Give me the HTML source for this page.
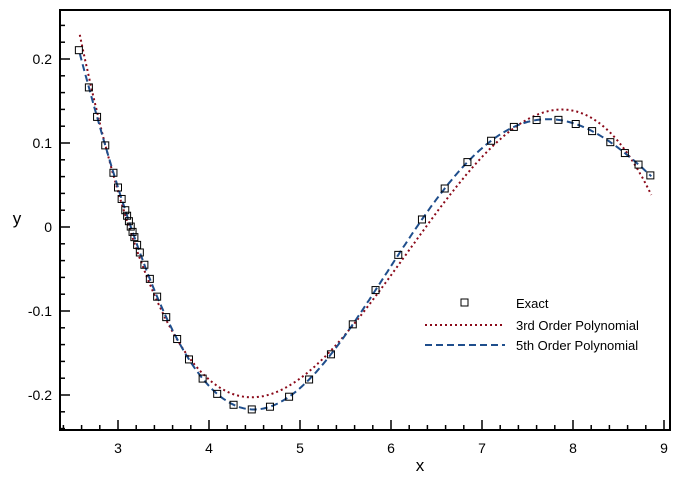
<!DOCTYPE html>
<html><head><style>body{margin:0;background:#fff}svg{display:block;font-family:"Liberation Sans",sans-serif}</style></head>
<body>
<svg id="s" width="680" height="480" xmlns="http://www.w3.org/2000/svg">
<rect x="0" y="0" width="680" height="480" fill="#fff"/>
<g id="ticks" stroke="#000" stroke-width="1.5"></g>
<g id="labels" font-size="14" fill="#000"></g>
<path id="red" fill="none" stroke="#8b0a1a" stroke-width="2" stroke-dasharray="2,3"/>
<path id="blue" fill="none" stroke="#1f4e8c" stroke-width="2" stroke-dasharray="7,4"/>
<g id="marks" fill="none" stroke="#000" stroke-width="1"></g>
<rect x="60" y="10" width="610" height="420" fill="none" stroke="#000" stroke-width="2"/>
<text x="420" y="471" font-size="17" text-anchor="middle">x</text>
<text x="17" y="224" font-size="17" text-anchor="middle">y</text>
<rect x="461" y="299" width="7" height="7" fill="none" stroke="#000"/>
<text x="516" y="308" font-size="13">Exact</text>
<line x1="425" y1="325" x2="505" y2="325" stroke="#8b0a1a" stroke-width="2" stroke-dasharray="2,3"/>
<text x="516" y="330" font-size="13">3rd Order Polynomial</text>
<line x1="425" y1="345" x2="505" y2="345" stroke="#1f4e8c" stroke-width="2" stroke-dasharray="7,4"/>
<text x="516" y="350" font-size="13">5th Order Polynomial</text>
</svg>
<script>
var X=function(x){return 118+(x-3)*91;},Y=function(y){return 227-y*840;};
var NS="http://www.w3.org/2000/svg";
function el(p,t,a,txt){var e=document.createElementNS(NS,t);for(var k in a)e.setAttribute(k,a[k]);if(txt)e.textContent=txt;document.getElementById(p).appendChild(e);}
for(var i=12;i<=45;i++){var x=i/5,px=X(x);if(px<61||px>669)continue;var maj=i%5==0;
el("ticks","line",{x1:px,y1:430,x2:px,y2:maj?420:425});
if(maj)el("labels","text",{x:px,y:453,"text-anchor":"middle"},""+(i/5));}
for(var j=-12;j<=13;j++){var y=j/50,py=Y(y);if(py<11||py>429)continue;var maj=j%5==0;
el("ticks","line",{x1:60,y1:py,x2:maj?70:65,y2:py});
if(maj)el("labels","text",{x:52,y:py+5,"text-anchor":"end"},j==0?"0":(y.toFixed(1)));}
function sinc(x){return Math.sin(x)/x;}
var xs=[2.57,2.68,2.77,2.86,2.95,3.0,3.04,3.08,3.1,3.12,3.14,3.16,3.18,3.21,3.24,3.29,3.35,3.43,3.53,3.65,3.78,3.93,4.09,4.27,4.47,4.67,4.88,5.1,5.34,5.58,5.83,6.08,6.34,6.59,6.84,7.1,7.35,7.6,7.84,8.03,8.21,8.41,8.57,8.72,8.85];
var N=4,A=[],B=[];for(var a=0;a<N;a++){A.push([0,0,0,0]);B.push(0);}
xs.forEach(function(x){var c=x-5.7;var p=[1,c,c*c,c*c*c],f=sinc(x);
for(var a=0;a<N;a++){B[a]+=p[a]*f;for(var k=0;k<N;k++)A[a][k]+=p[a]*p[k];}});
for(var a=0;a<N;a++){for(var r2=a+1;r2<N;r2++){var m=A[r2][a]/A[a][a];for(var k=a;k<N;k++)A[r2][k]-=m*A[a][k];B[r2]-=m*B[a];}}
var co=[0,0,0,0];for(var a=N-1;a>=0;a--){var s=B[a];for(var k=a+1;k<N;k++)s-=A[a][k]*co[k];co[a]=s/A[a][a];}
function cub(x){var c=x-5.7;return co[0]+co[1]*c+co[2]*c*c+co[3]*c*c*c;}
var r="",b="";for(var x=2.58;x<=8.86;x+=0.02){r+=(r?"L":"M")+X(x).toFixed(1)+","+Y(cub(x)).toFixed(1);b+=(b?"L":"M")+X(x).toFixed(1)+","+Y(sinc(x)).toFixed(1);}
document.getElementById("red").setAttribute("d",r);document.getElementById("blue").setAttribute("d",b);
xs.forEach(function(x){el("marks","rect",{x:X(x)-3.5,y:Y(sinc(x))-3.5,width:7,height:7});});
</script>
</body></html>
